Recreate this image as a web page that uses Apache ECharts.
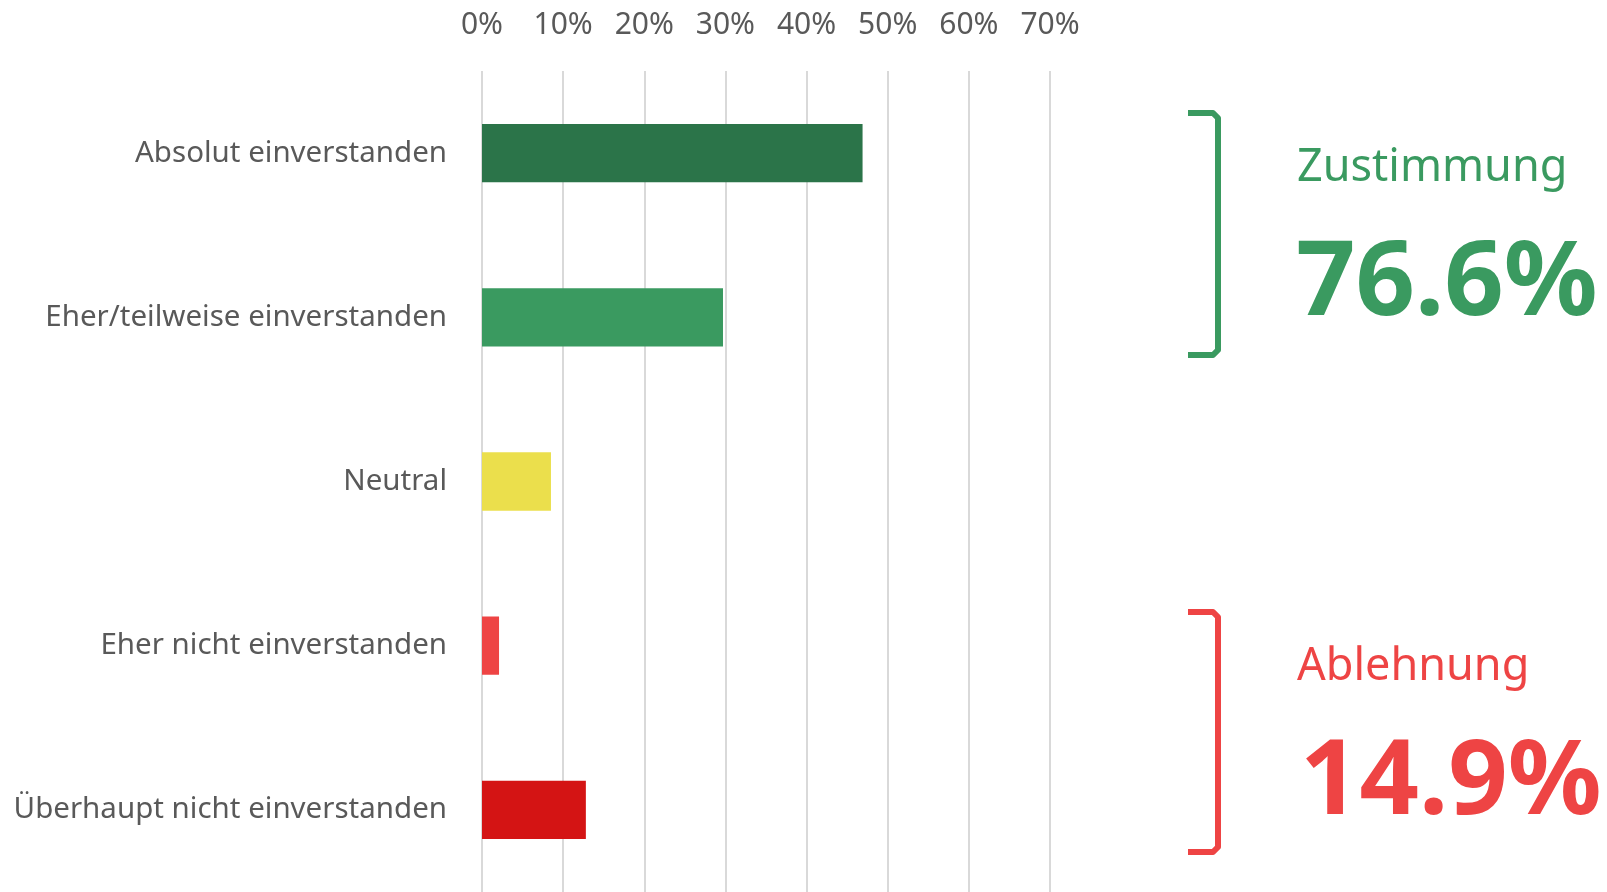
<!DOCTYPE html>
<html>
<head>
<meta charset="utf-8">
<script src="https://cdn.jsdelivr.net/npm/echarts@6/dist/echarts.min.js"></script>
<style>
    html, body {margin: 0; padding: 0; background: #fff;}
    #main {width: 1607px; height: 892px;}
</style>
</head>
<body>
<div id="main"></div>
<script>
var categories = ['Absolut einverstanden', 'Eher/teilweise einverstanden', 'Neutral', 'Eher nicht einverstanden', 'Überhaupt nicht einverstanden'];
var values = [46.9, 29.7, 8.5, 2.1, 12.8];
var barColors = ['#2B7449', '#3A9A60', '#EBDF4C', '#EE4444', '#D41414'];
var xTicks = [0, 10, 20, 30, 40, 50, 60, 70];
var groupNames = ['Zustimmung', 'Ablehnung'];
var groupColors = ['#3A9A60', '#EE4444'];

var font = '"Noto Sans", "Open Sans", sans-serif';
var agree = (values[0] + values[1]).toFixed(1) + '%';
var reject = (values[3] + values[4]).toFixed(1) + '%';

var myChart = echarts.init(document.getElementById('main'));

// eckige Klammer rechts neben den Balken
function bracket(top, bottom, color) {
    return {
        type: 'polyline',
        shape: {points: [[1188, top], [1213, top], [1218, top + 5], [1218, bottom - 5], [1213, bottom], [1188, bottom]]},
        style: {stroke: color, lineWidth: 6, fill: null, lineJoin: 'round'}
    };
}

var option = {
    animation: false,
    grid: {left: 482, right: 557, top: 71, bottom: -3},
    xAxis: {
        type: 'value',
        position: 'top',
        min: 0,
        max: 70,
        interval: 10,
        axisLine: {show: false},
        axisTick: {show: false},
        axisLabel: {
            margin: 31,
            fontSize: 30,
            fontFamily: font,
            color: '#595959',
            formatter: function (v) {
                return xTicks.indexOf(v) > -1 ? v + '%' : '';
            }
        },
        splitLine: {lineStyle: {color: '#D9D9D9', width: 2}}
    },
    yAxis: {
        type: 'category',
        inverse: true,
        data: categories,
        axisLine: {show: false},
        axisTick: {show: false},
        axisLabel: {margin: 35, fontSize: 29.5, fontFamily: font, color: '#595959'}
    },
    series: [{
        type: 'bar',
        barWidth: '35.5%',
        data: values.map(function (v, i) {
            return {value: v, itemStyle: {color: barColors[i]}};
        })
    }],
    graphic: [
        bracket(113, 355, groupColors[0]),
        bracket(612, 852, groupColors[1]),
        {type: 'text', left: 1297, top: 146, style: {text: groupNames[0], font: '45px ' + font, fill: groupColors[0]}},
        {type: 'text', left: 1296, top: 233, style: {text: agree, font: 'bold 104px ' + font, fill: groupColors[0]}},
        {type: 'text', left: 1297, top: 645, style: {text: groupNames[1], font: '45px ' + font, fill: groupColors[1]}},
        {type: 'text', left: 1300, top: 732, style: {text: reject, font: 'bold 104px ' + font, fill: groupColors[1]}}
    ]
};
myChart.setOption(option);

window.addEventListener("resize", function () {
    myChart.resize();
});
</script>
</body>
</html>
